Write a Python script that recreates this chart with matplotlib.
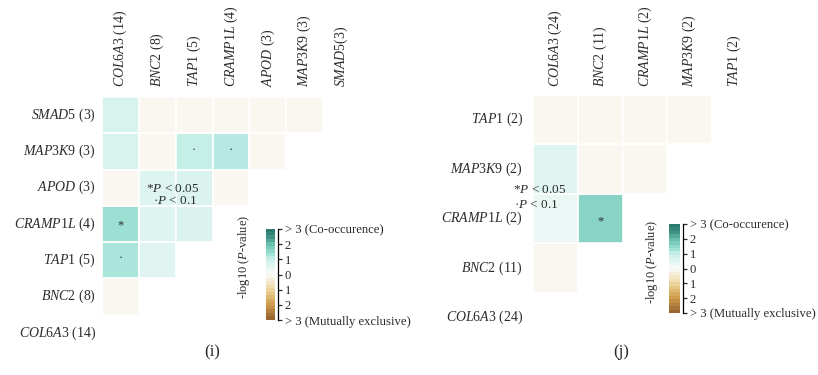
import re
import matplotlib
matplotlib.use("Agg")
import matplotlib.pyplot as plt
import numpy as np
from matplotlib.colors import LinearSegmentedColormap
from matplotlib.patches import Rectangle

plt.rcParams["font.family"] = "Liberation Serif"
plt.rcParams["mathtext.fontset"] = "custom"
plt.rcParams["mathtext.rm"] = "Liberation Serif"
plt.rcParams["mathtext.it"] = "Liberation Serif:italic"
plt.rcParams["text.color"] = "#2b2b2b"

# panel (i): genes (bottom-left to top-right) and number of mutated samples
genes_i = ["COL6A3", "BNC2", "TAP1", "CRAMP1L", "APOD", "MAP3K9", "SMAD5"]
counts_i = [14, 8, 5, 4, 3, 3, 3]
# signed -log10(P) for each gene pair, row g holds pairs with genes 0..g-1
logp_i = [
    [],
    [-0.1],
    [1.25, 0.55],
    [1.39, 0.6, 0.7],
    [-0.1, 0.6, 0.7, -0.1],
    [0.73, -0.1, 1.05, 1.17, -0.1],
    [0.73, -0.1, -0.1, -0.1, -0.1, -0.1],
]

# panel (j)
genes_j = ["COL6A3", "BNC2", "CRAMP1L", "MAP3K9", "TAP1"]
counts_j = [24, 11, 2, 2, 2]
logp_j = [
    [],
    [-0.1],
    [0.35, 1.66],
    [0.56, -0.1, -0.1],
    [-0.1, -0.1, -0.1, -0.1],
]

cbar_ticks = [-3, -2, -1, 0, 1, 2, 3]
cbar_labels = ["> 3 (Mutually exclusive)", "2", "1", "0", "1", "2", "> 3 (Co-occurence)"]

stops = [(-3, "#996633"), (-2, "#d2a04c"), (-1, "#eed9a4"), (0, "#fbfbf9"),
         (1, "#cbf0ea"), (1.3, "#a5e4d9"), (2, "#6cc3b2"), (2.5, "#3f9585"),
         (3, "#2c7a6e")]
cmap = LinearSegmentedColormap.from_list("cooc", [((v + 3) / 6, c) for v, c in stops])


def gene_label(name, n, space=True):
    parts = re.findall(r"[A-Za-z]+|\d+", name)
    s = "".join(r"$\mathit{%s}$" % p if p.isalpha() else p for p in parts)
    return s + (" " if space else "") + "(%d)" % n


fig = plt.figure(figsize=(8.18, 3.75), dpi=100)
W, H = 818.0, 375.0


def px_axes(x0, y0, x1, y1):
    return fig.add_axes([x0 / W, 1 - y1 / H, (x1 - x0) / W, (y1 - y0) / H])


def draw_panel(box, genes, counts, logp, rowlab_dx, collab_dy, top_nospace):
    n = len(genes)
    ax = px_axes(*box)
    ax.set_xlim(0, n)
    ax.set_ylim(n, 0)
    ax.axis("off")
    for g in range(n):
        r = n - 1 - g  # row from top
        for j, v in enumerate(logp[g]):
            ax.add_patch(Rectangle((j, r), 1, 1, facecolor=cmap((v + 3) / 6),
                                   edgecolor="white", linewidth=1.2))
            if v >= 1.3:
                ax.text(j + 0.5, r + 0.55, "*", ha="center", va="center", fontsize=9)
            elif v >= 1:
                ax.text(j + 0.5, r + 0.45, "·", ha="center", va="center", fontsize=9)
        ax.text(rowlab_dx, r + 0.5, gene_label(genes[g], counts[g]),
                ha="right", va="center", fontsize=10)
        lab = gene_label(genes[g], counts[g], space=not (top_nospace and g == n - 1))
        ax.text(g + 0.5, collab_dy, lab, rotation=90, ha="center", va="bottom",
                fontsize=10)
    return ax


def draw_cbar(x0, y0, x1, y1, lab_x, lab_y):
    cax = px_axes(x0, y0, x1, y1)
    grad = np.linspace(-3, 3, 26).reshape(-1, 1)
    cax.imshow(grad, aspect="auto", cmap=cmap.resampled(26), vmin=-3, vmax=3,
               extent=[0, 1, -3, 3], origin="lower")
    cax.set_xlim(0, 1)
    cax.set_ylim(-3, 3)
    for s in ["left", "top", "bottom"]:
        cax.spines[s].set_visible(False)
    cax.spines["right"].set_position(("outward", 2))
    cax.spines["right"].set_linewidth(0.9)
    cax.set_xticks([])
    cax.yaxis.tick_right()
    cax.set_yticks(cbar_ticks)
    cax.set_yticklabels(cbar_labels, fontsize=9.1)
    cax.tick_params(axis="y", length=3, width=0.9, pad=2, colors="#2b2b2b")
    fig.text(lab_x / W, 1 - lab_y / H, r"-log10 ($\mathit{P}$-value)", rotation=90,
             ha="center", va="center", fontsize=9)


# panel (i)
draw_panel((102, 97, 360, 351), genes_i, counts_i, logp_i, -0.16, -0.28, True)
draw_cbar(266, 229, 275, 320, 244, 257)
fig.text(173 / W, 1 - 189 / H, r"*$\mathit{P}$ < 0.05", ha="center", va="center", fontsize=9.5)
fig.text(175 / W, 1 - 201 / H, r"·$\mathit{P}$ < 0.1", ha="center", va="center", fontsize=9.5)
fig.text(212 / W, 1 - 352 / H, "(i)", ha="center", va="center", fontsize=12)

# panel (j)
draw_panel((533, 95, 757, 342), genes_j, counts_j, logp_j, -0.22, -0.16, False)
draw_cbar(669, 224, 680, 313, 652, 262)
fig.text(540 / W, 1 - 190 / H, r"*$\mathit{P}$ < 0.05", ha="center", va="center", fontsize=9.5)
fig.text(536 / W, 1 - 205 / H, r"·$\mathit{P}$ < 0.1", ha="center", va="center", fontsize=9.5)
fig.text(621 / W, 1 - 352 / H, "(j)", ha="center", va="center", fontsize=12)

fig.savefig("out.png", dpi=100)
